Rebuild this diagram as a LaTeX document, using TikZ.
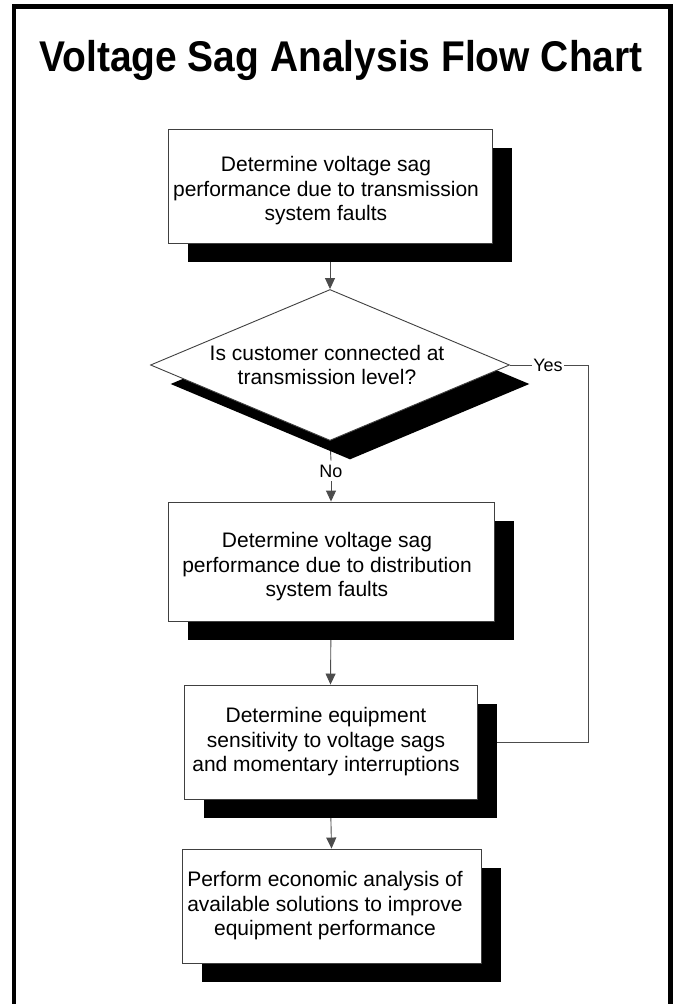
\documentclass[tikz,border=0pt]{standalone}
\usepackage{fontspec}
\setmainfont{Liberation Sans}
\usetikzlibrary{arrows.meta,shapes.geometric,shadows,backgrounds}
\begin{document}
\begin{tikzpicture}[x=1pt,y=-1pt,
  shd/.style={drop shadow={shadow xshift=20pt,shadow yshift=-19pt,fill=black,opacity=1}},
  procbox/.style={draw=black!75,line width=0.9pt,fill=white,inner sep=0pt,shd},
  decbox/.style={diamond,draw=black!75,line width=0.9pt,fill=white,inner sep=0pt,shd},
  btext/.style={font=\fontsize{21}{24.5}\selectfont,align=center,inner sep=0pt},
  conn/.style={draw=black!70,line width=0.9pt},
  arr/.style={conn,-{Triangle[length=11pt,width=10pt]}},
  lbl/.style={font=\fontsize{18}{20}\selectfont,inner sep=1.5pt}]
\useasboundingbox (0,0) rectangle (673,1004);
% frame
\draw[line width=4.8pt,line join=miter] (14,1015) -- (14,6.5) -- (670.5,6.5) -- (670.5,1015);
% title
\node[anchor=base,inner sep=0pt,font=\fontsize{43}{50}\selectfont\bfseries] (title) at (341,71)
  {\scalebox{0.906}[1]{Voltage Sag Analysis Flow Chart}};
% shapes
\node[procbox,minimum width=324pt,minimum height=114pt] (b1) at (330,186) {};
\node[decbox,minimum width=359pt,minimum height=151pt] (dia) at (330,365) {};
\node[procbox,minimum width=326pt,minimum height=119pt] (b2) at (331,561.5) {};
\node[procbox,minimum width=293pt,minimum height=114pt] (b4) at (330.5,742) {};
\node[procbox,minimum width=299pt,minimum height=114pt] (b5) at (331.5,906) {};
% texts
\node[btext] (b1t) at (326,191) {Determine voltage sag\\performance due to transmission\\system faults};
\node[btext] (dt) at (327,365) {Is customer connected at\\transmission level?};
\node[btext] (b2t) at (327,567) {Determine voltage sag\\performance due to distribution\\system faults};
\node[btext] (b4t) at (326,742) {Determine equipment\\sensitivity to voltage sags\\and momentary interruptions};
\node[btext] (b5t) at (325,906) {Perform economic analysis of\\available solutions to improve\\equipment performance};
% labels
\node[lbl] (yes) at (548,365) {Yes};
\node[lbl,inner sep=4pt] (no) at (331,471) {No};
\coordinate (yc) at (588,365);
% connectors
\begin{scope}[on background layer]
\draw[arr] (b1.south) -- (dia.north);
\draw[conn] (dia.south) -- (no.north);
\draw[arr] (no.south) -- (b2.north);
\draw[arr] (b2.south) -- (b4.north);
\draw[arr] (b4.south) -- (b5.north);
\draw[conn] (dia.east) -- (yes.west);
\draw[conn] (yes.east) -- (yc) |- (b4.east);
\end{scope}
\end{tikzpicture}
\end{document}
